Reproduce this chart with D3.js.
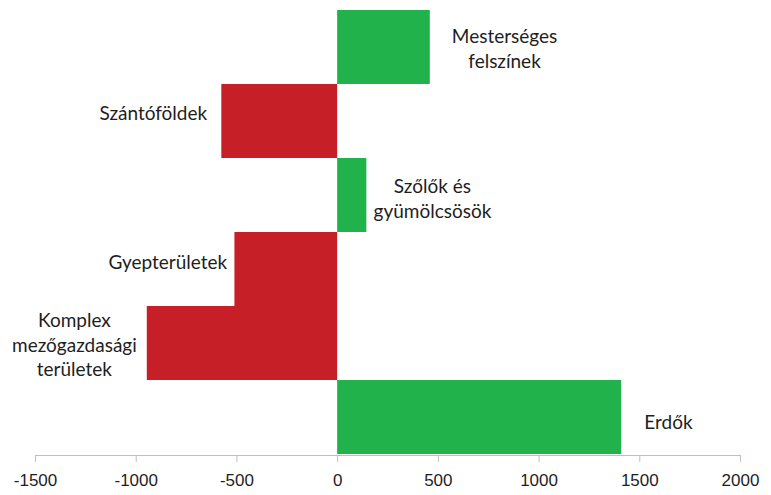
<!DOCTYPE html>
<html lang="hu">
<head>
    <meta charset="UTF-8">
    <script src="https://d3js.org/d3.v7.min.js" charset="utf-8"></script>
    <title>Földhasználat változása</title>
    <style>
        body { margin: 0; background: white; }
        svg { display: block; font-family: Lato, "Open Sans", sans-serif; }
        .axis text { font-size: 17px; fill: #1e1e1e; }
        .axis path, .axis line { stroke: #c9bcb6; }
        .lbl { font-size: 19px; fill: #1e1e1e; }
    </style>
</head>
<body>
    <div class="chart"></div>

    <script>
        const svgWidth = 771;
        const svgHeight = 495;

        // categories (top to bottom), with line breaks as in the original labels
        const categories = [
            ["Mesterséges", "felszínek"],
            ["Szántóföldek"],
            ["Szőlők és", "gyümölcsösök"],
            ["Gyepterületek"],
            ["Komplex", "mezőgazdasági", "területek"],
            ["Erdők"]
        ];
        // change
        const values = [460, -575, 145, -510, -945, 1410];
        const tickValues = [-1500, -1000, -500, 0, 500, 1000, 1500, 2000];

        const svg = d3.select(".chart").append("svg")
            .attr("width", svgWidth)
            .attr("height", svgHeight);

        // scales
        const x = d3.scaleLinear()
            .domain([-1500, 2000])
            .range([35, 740]);
        const y = d3.scaleBand()
            .domain(d3.range(categories.length))
            .range([10, 454])
            .padding(0);

        // bars
        svg.selectAll("rect.bar")
            .data(values)
            .enter()
            .append("rect")
            .attr("class", "bar")
            .attr("x", d => x(Math.min(0, d)))
            .attr("width", d => Math.abs(x(d) - x(0)))
            .attr("y", (d, i) => y(i))
            .attr("height", y.bandwidth())
            .attr("fill", d => d >= 0 ? "#21b24b" : "#c71f27");

        // axis - plain hyphen minus, no thousands separator
        const axis = svg.append("g")
            .attr("class", "axis")
            .attr("transform", "translate(0,455)")
            .call(d3.axisBottom(x)
                .tickValues(tickValues)
                .tickFormat(d => String(d))
                .tickSize(7)
                .tickSizeOuter(0)
                .tickPadding(12));
        axis.selectAll("text").attr("dy", "0.71em");

        // labels next to the bar ends (Excel places them a bit unevenly)
        const labelPad = [22, 14, 7, 7, 10, 23];
        const labelDy = [2, -8, 4, -7, 2, 5];
        const lineH = 24.5;

        categories.forEach((lines, i) => {
            const v = values[i];
            const t = svg.append("text")
                .attr("class", "lbl")
                .attr("text-anchor", "middle");
            const cy = y(i) + y.bandwidth() / 2 + labelDy[i];
            lines.forEach((s, k) => {
                t.append("tspan")
                    .attr("x", 0)
                    .attr("y", cy + (k - (lines.length - 1) / 2) * lineH)
                    .attr("dy", "0.35em")
                    .text(s);
            });
            const w = t.node().getBBox().width;
            const cx = v >= 0 ? x(v) + labelPad[i] + w / 2 : x(v) - labelPad[i] - w / 2;
            t.selectAll("tspan").attr("x", cx);
        });
    </script>
</body>
</html>
